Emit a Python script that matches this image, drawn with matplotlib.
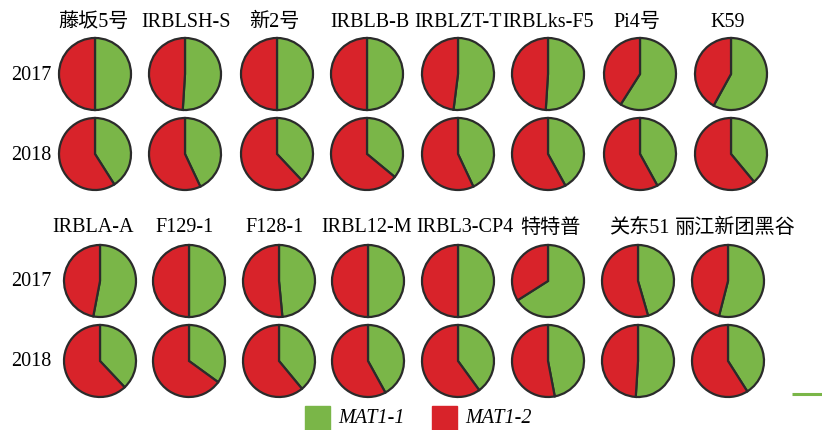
import matplotlib.pyplot as plt
from matplotlib.patches import Rectangle

plt.rcParams['font.family'] = ['Liberation Serif', 'Noto Sans CJK SC']

# share of MAT1-1 isolates per variety, the rest is MAT1-2
varieties_a = ['藤坂5号', 'IRBLSH-S', '新2号', 'IRBLB-B', 'IRBLZT-T', 'IRBLks-F5', 'Pi4号', 'K59']
mat11_a_2017 = [0.50, 0.51, 0.50, 0.50, 0.52, 0.51, 0.59, 0.58]
mat11_a_2018 = [0.41, 0.43, 0.38, 0.36, 0.43, 0.42, 0.42, 0.39]

varieties_b = ['IRBLA-A', 'F129-1', 'F128-1', 'IRBL12-M', 'IRBL3-CP4', '特特普', '关东51', '丽江新团黑谷']
mat11_b_2017 = [0.53, 0.50, 0.485, 0.50, 0.50, 0.66, 0.455, 0.54]
mat11_b_2018 = [0.38, 0.35, 0.39, 0.42, 0.40, 0.47, 0.51, 0.41]

years = ['2017', '2018']
legend_labels = ['MAT1-1', 'MAT1-2']

GREEN = '#7ab648'
RED = '#d8232a'
EDGE = '#2b2b2b'

W, H = 822, 431
fig = plt.figure(figsize=(W / 100, H / 100), dpi=100)
ax = fig.add_axes([0, 0, 1, 1])

# layout in pixels, measured from the top edge
blocks = [
    dict(names=varieties_a, rows=[mat11_a_2017, mat11_a_2018],
         pie_x=[95, 185, 277, 367, 458, 548, 640, 731],
         title_x=[94, 186, 274, 370, 458, 548, 637, 728],
         title_y=22, row_y=[75, 155]),
    dict(names=varieties_b, rows=[mat11_b_2017, mat11_b_2018],
         pie_x=[100, 189, 279, 368, 458, 548, 638, 728],
         title_x=[93, 185, 275, 367, 465, 550, 639, 735],
         title_y=228, row_y=[282, 362]),
]
R = 36
FS = 14.5

for b in blocks:
    for name, tx in zip(b['names'], b['title_x']):
        ax.text(tx, H - b['title_y'], name, ha='center', va='center', fontsize=FS)
    for yr, vals, ry in zip(years, b['rows'], b['row_y']):
        ax.text(31, H - ry, yr, ha='center', va='center', fontsize=FS)
        for v, px in zip(vals, b['pie_x']):
            ax.pie([v, 1 - v], colors=[GREEN, RED], startangle=90, counterclock=False,
                   center=(px, H - ry), radius=R,
                   wedgeprops=dict(edgecolor=EDGE, linewidth=1.6))

# legend
for lab, col, sx in zip(legend_labels, [GREEN, RED], [305, 432]):
    ax.add_patch(Rectangle((sx, 0), 25, 24, color=col))
    ax.text(sx + 33, 12, lab, ha='left', va='center', fontsize=FS, style='italic')

ax.plot([792, 822], [H - 395, H - 395], color=GREEN, lw=2.2, solid_capstyle='butt')

ax.set_xlim(0, W)
ax.set_ylim(0, H)
ax.set_aspect('auto')
ax.axis('off')

fig.savefig('out.png', dpi=100)
